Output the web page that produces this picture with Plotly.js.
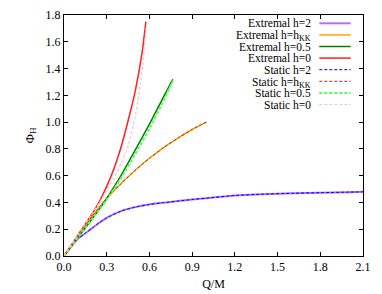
<!DOCTYPE html>
<html>
<head>
<meta charset="utf-8">
<script src="https://cdn.plot.ly/plotly-3.0.1.min.js"></script>
<style>html,body{margin:0;padding:0;background:#fff;}#plot{width:382px;height:294px;}</style>
</head>
<body>
<div id="plot"></div>
<script>
// ---- data ----
const extH2_Q   = [0,0.05,0.1,0.15,0.2,0.25,0.3,0.4,0.5,0.6,0.7,0.8,0.9,1.0,1.2,1.4,1.6,1.8,2.0,2.1];
const extH2_P   = [0,0.07,0.13,0.17,0.21,0.25,0.285,0.335,0.365,0.385,0.398,0.41,0.422,0.432,0.452,0.462,0.468,0.473,0.477,0.479];
const extKK_Q   = [0,0.1,0.2,0.3,0.4,0.5,0.6,0.7,0.8,0.9,1.0];
const extKK_P   = [0,0.15,0.30,0.43,0.54,0.64,0.73,0.81,0.88,0.945,1.0];
const ext05_Q   = [0,0.1,0.2,0.3,0.4,0.5,0.6,0.7,0.764];
const ext05_P   = [0,0.14,0.28,0.43,0.60,0.79,0.985,1.19,1.32];
const ext0_Q    = [0,0.1,0.2,0.25,0.3,0.35,0.4,0.45,0.5,0.55,0.575];
const ext0_P    = [0,0.16,0.32,0.41,0.52,0.65,0.81,1.01,1.23,1.53,1.75];
const stH2_Q    = extH2_Q;
const stH2_P    = [0,0.07,0.13,0.17,0.21,0.25,0.285,0.335,0.365,0.385,0.398,0.41,0.422,0.432,0.452,0.462,0.468,0.473,0.477,0.479];
const stKK_Q    = extKK_Q;
const stKK_P    = [0,0.15,0.30,0.43,0.54,0.64,0.73,0.81,0.88,0.945,1.0];
const st05_Q    = [0,0.1,0.2,0.3,0.4,0.5,0.6,0.7,0.765];
const st05_P    = [0,0.14,0.28,0.42,0.58,0.76,0.95,1.16,1.31];
const st0_Q     = [0,0.1,0.2,0.25,0.3,0.35,0.4,0.45,0.5,0.54,0.56,0.575];
const st0_P     = [0,0.16,0.32,0.40,0.49,0.58,0.69,0.82,1.04,1.31,1.5,1.7];

const seriesNames = ['Extremal h=2','Extremal h=h<sub>KK</sub>','Extremal h=0.5','Extremal h=0',
                     'Static h=2','Static h=h<sub>KK</sub>','Static h=0.5','Static h=0'];
const xTicks = [0,0.3,0.6,0.9,1.2,1.5,1.8,2.1];
const yTicks = [0,0.2,0.4,0.6,0.8,1.0,1.2,1.4,1.6,1.8];

// ---- styles ----
const styles = [
  {color:'#b070ff', width:2, dash:'solid'},
  {color:'#ffa500', width:1.5, dash:'solid'},
  {color:'#008000', width:1.5, dash:'solid'},
  {color:'#ff2020', width:1.5, dash:'solid'},
  {color:'#0000ff', width:1, dash:'3px,2px'},
  {color:'#a52a2a', width:1, dash:'3px,2px'},
  {color:'#55ff55', width:2, dash:'3px,2px'},
  {color:'#ffc0cb', width:1.2, dash:'3px,2px'}
];
const xs = [extH2_Q, extKK_Q, ext05_Q, ext0_Q, stH2_Q, stKK_Q, st05_Q, st0_Q];
const ys = [extH2_P, extKK_P, ext05_P, ext0_P, stH2_P, stKK_P, st05_P, st0_P];

const traces = xs.map((x,i)=>({
  x:x, y:ys[i], type:'scatter', mode:'lines', name:seriesNames[i],
  line:{color:styles[i].color, width:styles[i].width, dash:styles[i].dash, shape:'spline', smoothing:0.6},
  showlegend:false, hoverinfo:'skip'
}));

// legend drawn gnuplot-style: right-aligned text, sample to the right
const L = 64, T = 15, W = 299, H = 241;
const rowTop = 23.3, rowStep = 11.6;
const lfont = {family:'Liberation Serif, Times New Roman, serif', size:11.5, color:'#000'};
const annotations = [], shapes = [];
seriesNames.forEach((n,i)=>{
  const ypix = rowTop + i*rowStep;
  const yp = (T + H - ypix)/H;
  annotations.push({xref:'paper', yref:'paper', x:(312-L)/W, y:(T + H - (ypix - 6.8))/H,
    xanchor:'right', yanchor:'top', text:n, showarrow:false, borderpad:0, font:lfont});
  shapes.push({type:'line', xref:'paper', yref:'paper', x0:(319.3-L)/W, x1:(350.7-L)/W, y0:yp, y1:yp,
    line:{color:styles[i].color, width:styles[i].width, dash:styles[i].dash}});
});

const font = {family:'Liberation Serif, Times New Roman, serif', size:12, color:'#000'};
const layout = {
  width:382, height:294,
  margin:{l:64, r:19, t:15, b:38},
  paper_bgcolor:'#fff', plot_bgcolor:'#fff',
  font:font,
  showlegend:false,
  xaxis:{range:[0,2.1], tickvals:xTicks, ticktext:xTicks.map(v=>v.toFixed(1)),
    ticks:'inside', ticklen:4, tickcolor:'#000', showline:true, linecolor:'#000', linewidth:1,
    mirror:'ticks', showgrid:false, zeroline:false, tickfont:font,
    title:{text:'Q/M', font:font, standoff:6}},
  yaxis:{range:[0,1.8], tickvals:yTicks, ticktext:yTicks.map(v=>v.toFixed(1)),
    ticks:'inside', ticklen:4, tickcolor:'#000', showline:true, linecolor:'#000', linewidth:1,
    mirror:'ticks', showgrid:false, zeroline:false, tickfont:font,
    title:{text:'Φ<sub>H</sub>', font:{family:font.family, size:13, color:'#000'}, standoff:8}},
  annotations:annotations,
  shapes:shapes
};
Plotly.newPlot('plot', traces, layout, {staticPlot:true, displayModeBar:false});
</script>
</body>
</html>
